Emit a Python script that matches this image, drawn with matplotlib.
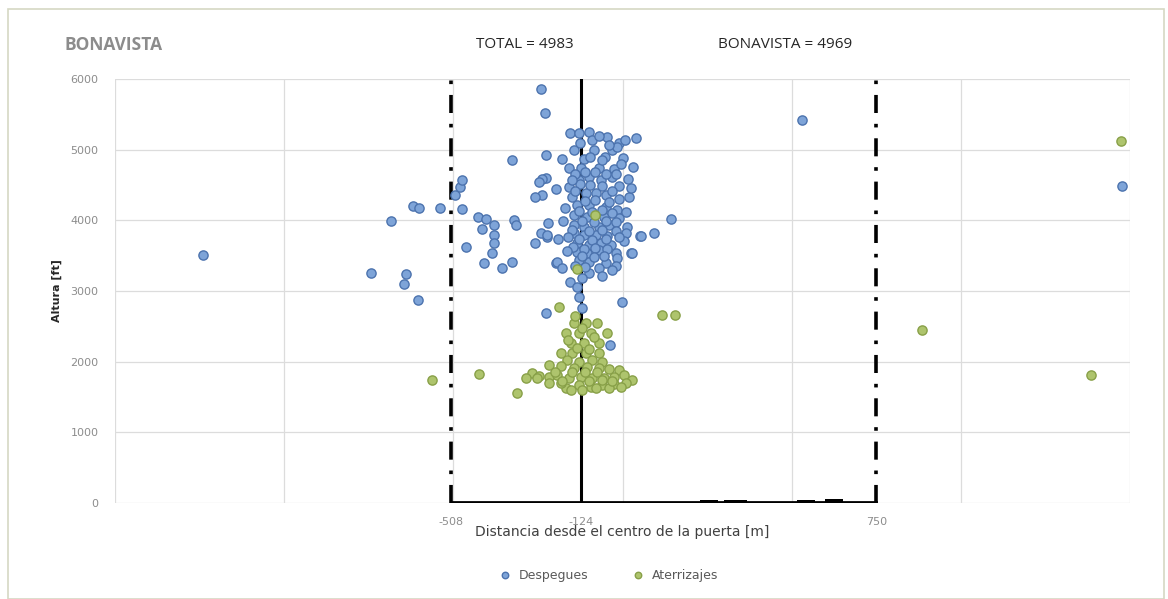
import matplotlib
matplotlib.use("Agg")
import matplotlib.pyplot as plt
from matplotlib.patches import Rectangle
import numpy as np

# ---------------- data ----------------
desp_x = [
    -1240, -743, -684, -646, -640, -605, -619, -602, -540, -495, -480, -474, -474, -463,
    -427, -404, -415, -380, -380, -380, -386, -409, -355, -327, -327, -321, -315,
    -241, -229, -226, -238, -223, -197,
    -49, 25, 52, 93, 143, -1, 530, 1475,
    -155, -129, -99, -90, -46, -10, 7, 40,
    -143, -179, -226, -114, -84, -52, -31, -16, 1,
    -158, -123, -69, -25,
    -238, -247, -197, -158, -129, -99, -64, -31, -10,
    -149, -108, -78, -49, -259,
    -135, -99, -49, -16, 10,
    -143, -105, -55, -10,
    -220, -143, -114, -69, -40, 13,
    -241, -223, -191, -259,
    -143, -114, -78, -46, 10, 55,
    -135, -99, -64, -34, 4,
    -135, -105, -69, -19, 28,
    -129, -99, -16, -194, -179, -99,
    -155, -129, -120, -226, -37,
    -140, -110, -80, -50, -20, -125, -95, -60, -30, -140, -110, -80, -40, -10,
    -130, -90, -60, -30, -120, -85, -50, -20, -150, -100, -60, -20, -130, -90,
    -50, -10, -145, -115, -80, -45, -120, -85, -55, -140, -110, -70, -20, -120,
    -135, -150, -170, -175, -165, -160, -30, -60, 20, 25, 15, 30, -5, -60, -95,
    -125, -70, -40,
]
desp_y = [
    3509, 3254, 3990, 3099, 3240, 2872, 4203, 4174, 4174, 4358, 4471, 4570, 4160, 3622,
    4047, 4019, 3877, 3934, 3792, 3679, 3537, 3396, 3325, 3410, 4853, 4004, 3934,
    5858, 5519, 4599, 4358, 3764, 3396,
    3396, 3537, 3778, 3820, 4019, 2844, 5420, 4490,
    5236, 5236, 5250, 5136, 5179, 5094, 5136, 5165,
    4995, 4868, 4924, 4868, 4995, 4896, 4995, 5037, 4882,
    4740, 4740, 4740, 4726,
    4585, 4542, 4443, 4471, 4570, 4613, 4570, 4613, 4486,
    4330, 4387, 4387, 4358, 4330,
    4217, 4217, 4188, 4146, 4118,
    4075, 4047, 4047, 4033,
    3962, 3934, 3905, 3905, 3934, 3905,
    3820, 3792, 3736, 3679,
    3820, 3792, 3792, 3778, 3820, 3778,
    3679, 3651, 3679, 3651, 3707,
    3552, 3537, 3580, 3537, 3537,
    3438, 3410, 3467, 3410, 3325, 3254,
    3127, 2915, 2759, 2688, 2236,
    4650, 4690, 4680, 4650, 4660, 4520, 4500, 4480, 4420, 4410, 4280, 4290, 4260, 4300,
    4130, 4120, 4150, 4100, 3990, 3980, 3990, 3970, 3860, 3850, 3860, 3850, 3740, 3720,
    3740, 3760, 3620, 3600, 3610, 3600, 3500, 3480, 3500, 3360, 3340, 3330, 3360, 3190,
    3050, 4570, 4180, 3990, 3560, 3760, 3300, 3210, 4330, 4460, 4590, 4760, 4800, 4850, 4900,
    5100, 5190, 5060,
]

ater_x = [
    -563, -424, -312, -188, 117, 155, -135, -81, 886, 1386, 1474,
    -143, -108, -75, -46, -167, -129, -93, -152, -114, -69, -182, -149, -108, -69,
    -164, -129, -90, -61, -217, -182, -143, -105, -69, -40, -10, -268, -247, -285,
    -253, -217, -194, -158, -123, -90, -55, -25, 4, 28, 10, -25, -61, -93, -129,
    -167, -182, -217, -152, -120, -78, -40, -4, -160, -135, -100, -85, -120, -140,
    -150, -110, -75, -200, -180, -100, -60, -30,
]
ater_y = [
    1740, 1825, 1557, 2773, 2660, 2660, 3311, 4075, 2448, 1811, 5120,
    2547, 2547, 2547, 2406, 2406, 2406, 2406, 2264, 2264, 2264, 2123, 2123, 2123, 2123,
    2023, 2000, 2023, 2000, 1960, 1945, 1910, 1930, 1910, 1900, 1880, 1840, 1800, 1769,
    1769, 1780, 1811, 1769, 1780, 1769, 1769, 1780, 1811, 1740, 1700, 1684, 1670, 1642, 1670,
    1627, 1698, 1698, 1599, 1599, 1627, 1627, 1642, 2300, 2200, 2180, 2350, 2480, 2650,
    1850, 1850, 1860, 1860, 1720, 1720, 1740, 1720,
]

limit_left = -508
limit_right = 750
centre = -124
xtick_vals = [limit_left, centre, limit_right]
xtick_labels = ["-508", "-124", "750"]

bump_start = [-340, -45, 150, 228, 300, 378, 515, 598]
bump_end = [-275, 20, 208, 283, 368, 430, 570, 652]
bump_h = [20, 20, 20, 45, 40, 20, 40, 60]

# ---------------- figure ----------------
fig = plt.figure(figsize=(11.68, 5.99), dpi=100)
fig.patch.set_facecolor("white")
fig.patches.append(Rectangle((0.007, 0.0), 0.99, 0.985, transform=fig.transFigure,
                             fill=False, edgecolor="#D5D8C4", linewidth=1.2))

ax = fig.add_axes([0.0985, 0.1603, 0.869, 0.7077])
ax.set_xlim(-1500, 1500)
ax.set_ylim(0, 6000)

for sp in ax.spines.values():
    sp.set_visible(False)

for gx in np.arange(-1500, 1501, 500):
    ax.axvline(gx, color="#DCDCDC", lw=0.9, zorder=0)
for gy in np.arange(0, 6001, 1000):
    ax.axhline(gy, color="#DCDCDC", lw=0.9, zorder=0)

ax.set_yticks(np.arange(0, 6001, 1000))
ax.set_xticks(xtick_vals)
ax.set_xticklabels(xtick_labels)
ax.tick_params(axis="both", length=0, labelsize=8, labelcolor="#8C8C8C")
ax.tick_params(axis="y", pad=12)
ax.tick_params(axis="x", pad=10)

# reference lines
ax.plot([limit_left, limit_left], [0, 6000], color="black", lw=2.6,
        dashes=[5, 3, 1, 3], zorder=3)
ax.plot([limit_right, limit_right], [0, 6000], color="black", lw=2.6,
        dashes=[5, 3, 1, 3], zorder=3)
ax.plot([centre, centre], [0, 6000], color="black", lw=2.2, zorder=1)

# ground profile
ax.plot([limit_left, limit_right], [15, 15], color="black", lw=2.0, zorder=3)
for s, e, h in zip(bump_start, bump_end, bump_h):
    ax.fill_between([s, e], 0, h, color="black", zorder=3, lw=0)

# scatter
ax.scatter(desp_x, desp_y, s=44, facecolor="#7EA4D8", edgecolor="#4C73AE",
           linewidths=1.0, zorder=4, label="Despegues")
ax.scatter(ater_x, ater_y, s=44, facecolor="#AEC46D", edgecolor="#88A048",
           linewidths=1.0, zorder=5, label="Aterrizajes")

ax.set_ylabel("Altura [ft]", fontsize=8, fontweight="bold", color="#262626", labelpad=6)
ax.set_xlabel("Distancia desde el centro de la puerta [m]", fontsize=10,
              color="#404040", labelpad=-1)

fig.text(0.055, 0.925, "BONAVISTA", fontsize=12.5, color="#8C8C8C",
         fontweight="bold", ha="left", va="center", family="Open Sans")
fig.text(0.449, 0.926, "TOTAL = 4983", fontsize=11, color="#262626",
         ha="center", va="center", family="Open Sans")
fig.text(0.6725, 0.926, "BONAVISTA = 4969", fontsize=11, color="#262626",
         ha="center", va="center", family="Open Sans")

leg = fig.legend(loc="center", bbox_to_anchor=(0.518, 0.04), ncol=2, frameon=False,
                 fontsize=9, handletextpad=0.1, columnspacing=3.0, markerscale=0.7)
for t in leg.get_texts():
    t.set_color("#595959")

fig.savefig("out.png", dpi=100)
